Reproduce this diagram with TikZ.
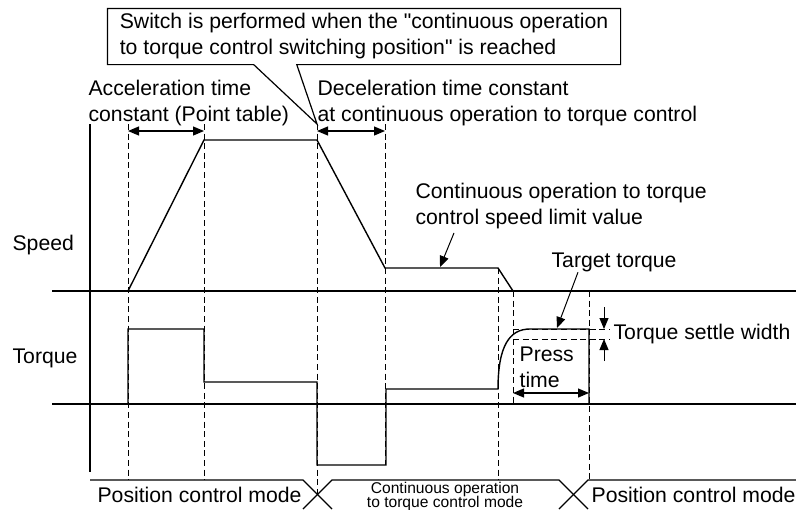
\documentclass[tikz,border=0pt]{standalone}
\usepackage{fontspec}
\setmainfont{Liberation Sans}[Ligatures=TeXOff]
\usetikzlibrary{positioning,arrows.meta,calc}
\newcommand{\contfont}{\fontsize{7.8}{7}\selectfont\lineskiplimit=-5pt\relax\lineskip=0pt\relax}

\begin{document}
\begin{tikzpicture}[
  x=0.5pt, y=-0.5pt,
  line width=0.6pt,
  font=\fontsize{10.6}{13}\selectfont,
  lbl/.style={inner sep=0pt, anchor=north west, align=left},
  guide/.style={line width=0.5pt, dash pattern=on 3pt off 1.8pt},
  dim/.style={{Triangle[length=5.5pt,width=4.5pt]}-{Triangle[length=5.5pt,width=4.5pt]}, line width=0.6pt},
  pointer/.style={-{Triangle[length=5.5pt,width=4.5pt]}, line width=0.5pt},
  sig/.style={line width=0.7pt}
]
\useasboundingbox (0,0) rectangle (796,509);

% labels
\node[inner sep=0pt, minimum width=256pt, minimum height=27.5pt, align=left] (switch) at (364,36.5)
  {Switch is performed when the "continuous operation\\to torque control switching position" is reached};
\node[lbl] (accel) at (88,80) {Acceleration time\\constant (Point table)};
\node[lbl] (decel) at (317,80) {Deceleration time constant\\at continuous operation to torque control};
\node[lbl] (limit) at (415,183) {Continuous operation to torque\\control speed limit value};
\node[lbl] (target) at (551,252) {Target torque};
\node[lbl] (speed) at (12,235) {Speed};
\node[lbl] (torque) at (12,348) {Torque};
\node[lbl] (settle) at (613,324) {Torque settle width};
\node[lbl] (press) at (519,346) {Press\\time};
\node[lbl] (posl) at (97,487) {Position control mode};
\node[lbl] (posr) at (591,487) {Position control mode};
\node[inner sep=0pt, anchor=north, align=center, font=\contfont] (cont) at (445,482)
  {Continuous operation\\to torque control mode};

% callout of the switch box
\coordinate (swpt) at (317,124);
\draw ($(switch.south west)!0.285!(switch.south east)$) -- (switch.south west) -- (switch.north west)
  -- (switch.north east) -- (switch.south east) -- ($(switch.south west)!0.369!(switch.south east)$)
  -- (swpt) -- cycle;

% axes
\draw (90,124) -- (90,472);
\draw (52,291) -- (796,291);
\draw (52,404) -- (796,404);

% guides
\foreach \x/\a/\b in {128/124/480, 204/124/480, 317/124/494, 385/124/465, 498/268/480, 513/291/404, 589/291/480}
  \draw[guide] (\x,\a) -- (\x,\b);
\draw[guide] (513,329) -- (610,329);
\draw[guide] (513,339) -- (610,339);

% speed and torque
\draw[sig] (90,291) -- (128,291) -- (204,140) -- (317,140) -- (385,268) -- (498,268) -- (513,291);
\draw[sig] (90,404) -- (128,404) -- (128,329) -- (204,329) -- (204,382) -- (317,382) -- (317,465)
  -- (386,465) -- (386,389) -- (498,389) .. controls (498,345) and (510,329) .. (530,329)
  -- (589,329) -- (589,404);

% times and widths
\draw[dim] (128,131) -- (204,131);
\draw[dim] (317,131) -- (385,131);
\draw[dim] (513,393) -- (589,393);
\draw[pointer] (604,307) -- (604,329);
\draw[pointer] (604,361) -- (604,339);

% pointers
\coordinate (limtip) at (440,267);
\coordinate (tgttip) at (557,328);
\draw[pointer] ($(limit.south west)+(39,3)$) -- (limtip);
\draw[pointer] ($(target.south west)+(27,0)$) -- (tgttip);

% mode bar
\draw (90,480) -- (303,480) -- (332,509);
\draw (303,509) -- (332,480) -- (559,480) -- (588,509);
\draw (559,509) -- (588,480) -- (796,480);
\end{tikzpicture}
\end{document}
